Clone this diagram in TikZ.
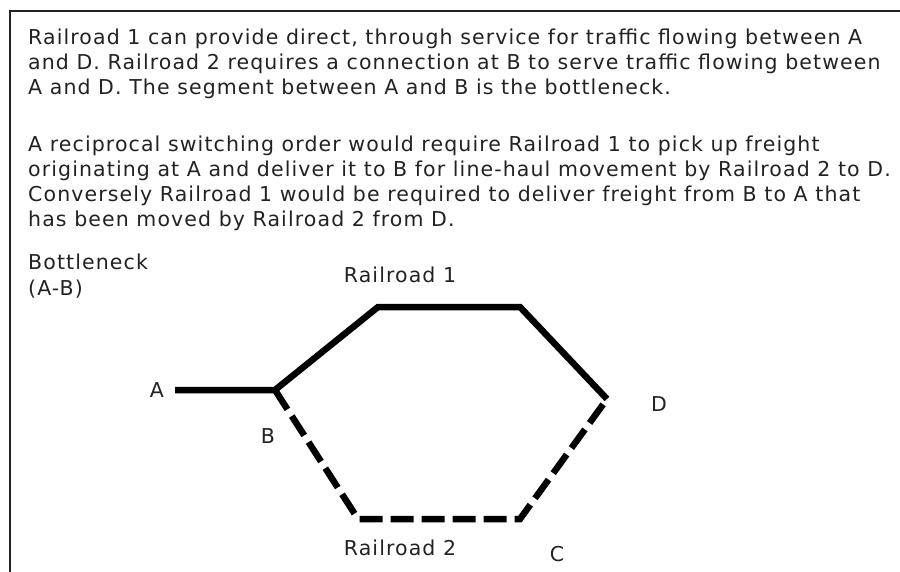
\documentclass[tikz,border=0pt]{standalone}
\usepackage{fontspec}
\setmainfont{DejaVu Sans}[LetterSpace=5.4]
\usetikzlibrary{positioning}

\definecolor{inkgray}{HTML}{222222}
\tikzset{
  txt/.style={inner sep=0pt,anchor=base west,text=inkgray,font=\fontsize{20.5}{25}\selectfont},
  para/.style={txt,align=left},
  lbl/.style={inner sep=0pt,anchor=base,text=inkgray,font=\fontsize{20.5}{25}\selectfont},
  track/.style={line width=6.5pt,line join=miter},
  spur/.style={track,dash pattern=on 23pt off 8pt}
}

\begin{document}
\begin{tikzpicture}[x=1pt,y=-1pt]
  \useasboundingbox (0,0) rectangle (900,572);
  \draw[inkgray,line width=1.5pt] (10,572) -- (10,11) -- (900,11);

  % multi-line nodes: base anchor sits on the last line
  \node[para] (intro) at (28,95) {Railroad 1 can provide direct, through service for traffic flowing between A\\
    and D. Railroad 2 requires a connection at B to serve traffic flowing between\\
    A and D. The segment between A and B is the bottleneck.};
  \node[para] (order) at (28,227) {A reciprocal switching order would require Railroad 1 to pick up freight\\
    originating at A and deliver it to B for line-haul movement by Railroad 2 to D.\\
    Conversely Railroad 1 would be required to deliver freight from B to A that\\
    has been moved by Railroad 2 from D.};
  \node[para] (neck) at (28,295) {Bottleneck\\(A-B)};

  \coordinate (B) at (275,390);
  \coordinate (nw) at (378,307);
  \coordinate (ne) at (520,307);
  \coordinate (D) at (607,399);
  \coordinate (se) at (520,519);
  \coordinate (sw) at (358,519);
  \node[lbl] (a) at (157,397) {A};
  \node[lbl] (b) at (268,443) {B};
  \node[lbl] (c) at (557,561) {C};
  \node[lbl] (d) at (659,411) {D};
  \node[lbl] (rr1) at (400,283) {Railroad 1};
  \node[lbl] (rr2) at (400,555) {Railroad 2};

  \draw[track] (175,390) -- (B) -- (nw) -- (ne) -- (D);
  \draw[spur] (B) -- (sw) -- (se) -- (D);
\end{tikzpicture}
\end{document}
